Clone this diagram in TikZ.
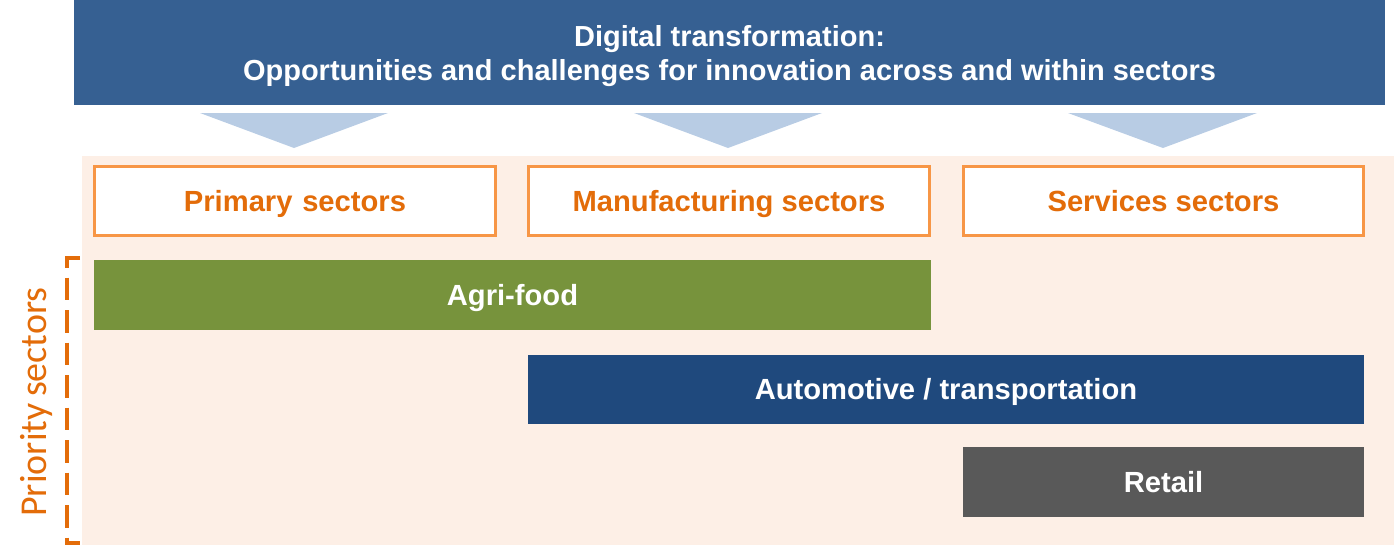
\documentclass[tikz,border=0pt]{standalone}
\usepackage{fontspec}
\setmainfont{Liberation Sans}
\newfontfamily\calibri{Carlito}
\usetikzlibrary{positioning}
\definecolor{titleblue}{HTML}{366092}
\definecolor{arrowblue}{HTML}{B8CCE4}
\definecolor{peach}{HTML}{FDEFE6}
\definecolor{orangeline}{HTML}{F79646}
\definecolor{orangetext}{HTML}{E36C09}
\definecolor{agrigreen}{HTML}{77933C}
\definecolor{autoblue}{HTML}{1F497D}
\definecolor{retailgrey}{HTML}{595959}

\tikzset{
  sectorbox/.style={rectangle, draw=orangeline, line width=1.7pt, fill=white, minimum width=8.02cm, minimum height=1.38cm, text height=11.9pt, text depth=0pt, font=\fontsize{16.6}{20}\selectfont\bfseries, text=orangetext},
  barbox/.style={rectangle, minimum height=1.39cm, text height=11.9pt, text depth=0pt, font=\fontsize{16.6}{20}\selectfont\bfseries, text=white}
}

\begin{document}
\begin{tikzpicture}[x=0.02cm, y=-0.02cm]
  \useasboundingbox (0,0) rectangle (1394,545);
  % background
  \fill[peach] (82,156) rectangle (1394,545);
  % title
  \node[rectangle, fill=titleblue, minimum width=26.22cm, minimum height=2.1cm] (titlebar) at (729.5,52.5) {};
  \node[align=center, text=white, font=\fontsize{16.5}{19.8}\selectfont\bfseries] (title) at (titlebar.center) [yshift=-0.07cm] {Digital transformation:\\Opportunities and challenges for innovation across and within sectors};
  % arrows down
  \fill[arrowblue] (200,113) -- (388,113) -- (294,148) -- cycle;
  \fill[arrowblue] (634,113) -- (822,113) -- (728,148) -- cycle;
  \fill[arrowblue] (1068,113) -- (1257,113) -- (1163,148) -- cycle;
  % sector boxes
  \node[sectorbox] (primary) at (295,201) {Primary\,\,sectors};
  \node[sectorbox] (manufacturing) at (729,201) {Manufacturing sectors};
  \node[sectorbox] (services) at (1163.5,201) {Services sectors};
  % priority bars
  \node[barbox, fill=agrigreen, minimum width=16.74cm] (agrifood) at (512.5,295) {Agri-food};
  \node[barbox, fill=autoblue, minimum width=16.72cm] (automotive) at (946,389.5) {Automotive / transportation};
  \node[barbox, fill=retailgrey, minimum width=8.02cm] (retail) at (1163.5,482) {Retail};
  % bracket
  \coordinate (brtop) at (80,258);
  \coordinate (brbot) at (80,543);
  \draw[orangetext, line width=1.8pt, dash pattern=on 13pt off 5.5pt] (brtop) -| (67,543) -- (brbot);
  \node[rotate=90, text=orangetext, font=\calibri\fontsize{21.6}{24}\selectfont] (priority) at (37,402) {Priority\,sectors};
\end{tikzpicture}
\end{document}
